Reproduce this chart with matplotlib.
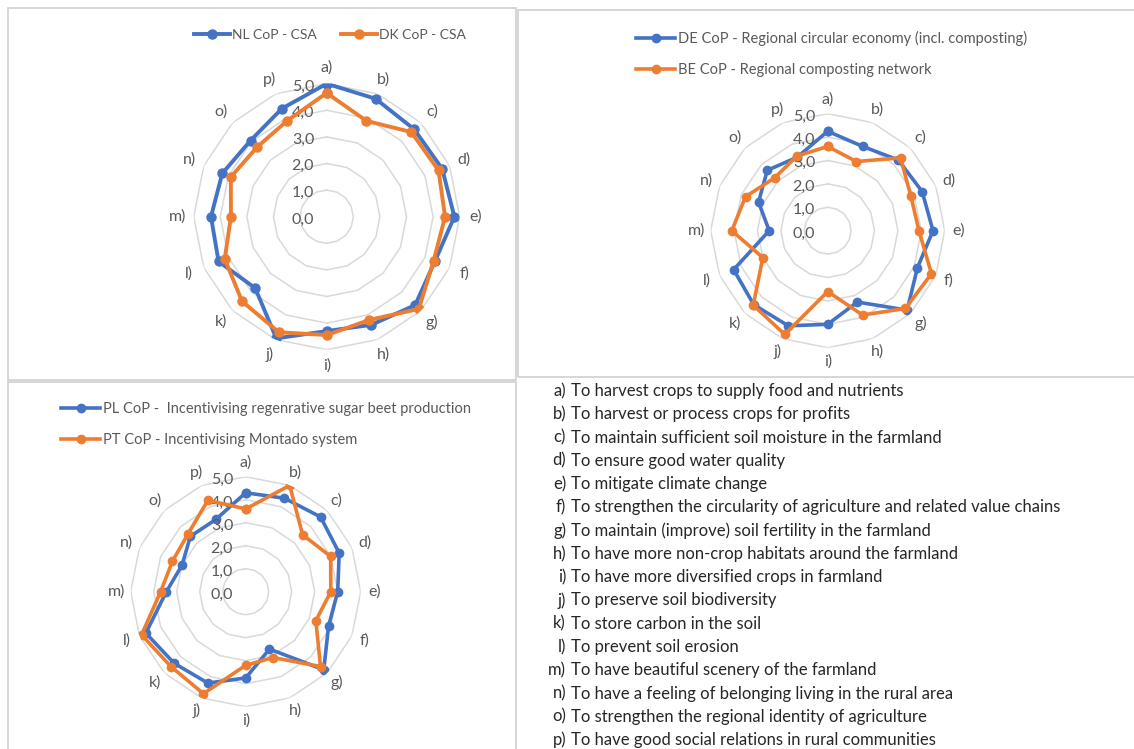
import numpy as np
import matplotlib
matplotlib.use("Agg")
from matplotlib import pyplot as plt
from matplotlib.patches import Rectangle

plt.rcParams['font.family'] = ['Lato', 'DejaVu Sans']

# categories a) .. p)
cats = ['a)', 'b)', 'c)', 'd)', 'e)', 'f)', 'g)', 'h)',
        'i)', 'j)', 'k)', 'l)', 'm)', 'n)', 'o)', 'p)']

descriptions = [
  "To harvest crops to supply food and nutrients",
  "To harvest or process crops for profits",
  "To maintain sufficient soil moisture in the farmland",
  "To ensure good water quality",
  "To mitigate climate change",
  "To strengthen the circularity of agriculture and related value chains",
  "To maintain (improve) soil fertility in the farmland",
  "To have more non-crop habitats around the farmland",
  "To have more diversified crops in farmland",
  "To preserve soil biodiversity",
  "To store carbon in the soil",
  "To prevent soil erosion",
  "To have beautiful scenery of the farmland",
  "To have a feeling of belonging living in the rural area",
  "To strengthen the regional identity of agriculture",
  "To have good social relations in rural communities",
]

# chart 1
nl = [5.0, 4.8, 4.65, 4.7, 4.8, 4.4, 4.7, 4.4, 4.3, 4.95, 3.8, 4.4, 4.35, 4.25, 4.05, 4.4]
dk = [4.65, 3.9, 4.5, 4.55, 4.45, 4.35, 4.9, 4.2, 4.45, 4.7, 4.5, 4.15, 3.6, 3.9, 3.7, 3.9]
# chart 2
de = [4.25, 3.9, 4.27, 4.37, 4.5, 4.15, 4.8, 3.3, 4.0, 4.4, 4.47, 4.35, 2.5, 3.2, 3.65, 3.4]
be = [3.6, 3.2, 4.4, 3.85, 3.9, 4.8, 4.7, 3.9, 2.6, 4.8, 4.5, 3.0, 4.1, 3.8, 3.2, 3.45]
# chart 3
pl = [4.3, 4.4, 4.6, 4.4, 4.0, 3.9, 4.8, 2.7, 3.75, 4.3, 4.4, 4.7, 3.45, 3.0, 3.4, 3.4]
pt = [3.6, 5.0, 3.5, 4.0, 3.7, 3.3, 4.6, 3.1, 3.2, 4.8, 4.6, 4.9, 3.7, 3.45, 3.55, 4.3]

ticks = [0, 1, 2, 3, 4, 5]
tick_labels = ['0,0', '1,0', '2,0', '3,0', '4,0', '5,0']

BLUE = '#4472C4'
ORANGE = '#ED7D31'
GRID = '#D9D9D9'
TXT = '#595959'

W, H = 1134, 749
fig = plt.figure(figsize=(W/100., H/100.), dpi=100)

def px_box(x0, y0, x1, y1):
  # pixel box (top-left origin) -> figure fraction rect
  return [x0/W, 1 - y1/H, (x1-x0)/W, (y1-y0)/H]

# panel borders
for (x0, y0, x1, y1) in [(8, 8, 516, 380), (518, 10, 1140, 377), (8, 382, 516, 760)]:
  fig.patches.append(Rectangle((x0/W, 1 - y1/H), (x1-x0)/W, (y1-y0)/H,
                               transform=fig.transFigure, fill=False,
                               edgecolor='#D0D0D0', lw=1.2))

def radar(cx, cy, r, s1, s2, lab1, lab2, lw=2.8, ms=6.5):
  ax = fig.add_axes(px_box(cx-r, cy-r, cx+r, cy+r), projection='polar')
  ax.set_theta_zero_location('N')
  ax.set_theta_direction(-1)
  ax.set_ylim(0, 5)
  ax.set_xticks([])
  ax.set_yticks([])
  ax.grid(False)
  ax.spines['polar'].set_visible(False)
  ax.patch.set_alpha(0)

  theta = np.linspace(0, 2*np.pi, len(cats), endpoint=False)
  tc = np.append(theta, theta[0])
  for k in ticks[1:]:
    ax.plot(tc, [k]*len(tc), color=GRID, lw=1.1, zorder=0)

  l1, = ax.plot(tc, s1 + [s1[0]], color=BLUE, lw=lw, marker='o', ms=ms, label=lab1, zorder=3)
  l2, = ax.plot(tc, s2 + [s2[0]], color=ORANGE, lw=lw, marker='o', ms=ms, label=lab2, zorder=4)

  for t, c in zip(theta, cats):
    ax.text(t, 5.6, c, ha='center', va='center', fontsize=11.5, color=TXT, clip_on=False)
  for k, tl in zip(ticks, tick_labels):
    ax.annotate(tl, xy=(0, k), xytext=(-9, -2), textcoords='offset points',
                ha='right', va='center', fontsize=11.5, color=TXT, annotation_clip=False)
  return l1, l2

h1 = radar(326.7, 216.7, 133, nl, dk, 'NL CoP - CSA', 'DK CoP - CSA')
h2 = radar(827.7, 230.7, 117, de, be, 'DE CoP - Regional circular economy (incl. composting)',
           'BE CoP - Regional composting network', lw=2.6, ms=6)
h3 = radar(245.7, 591.7, 115, pl, pt, 'PL CoP -  Incentivising regenrative sugar beet production',
           'PT CoP - Incentivising Montado system', lw=2.6, ms=6)

leg_kw = dict(frameon=False, handletextpad=0.15, borderpad=0, borderaxespad=0)
fig.legend(h1, [h.get_label() for h in h1], loc='center left',
           bbox_to_anchor=(194/W, 1 - 35/H), ncol=2, columnspacing=1.7,
           handlelength=2.6, fontsize=10, labelcolor=TXT, **leg_kw)
fig.legend(h2, [h.get_label() for h in h2], loc='upper left',
           bbox_to_anchor=(636/W, 1 - 31/H), labelspacing=1.15,
           handlelength=2.7, fontsize=10.5, labelcolor=TXT, **leg_kw)
fig.legend(h3, [h.get_label() for h in h3], loc='upper left',
           bbox_to_anchor=(61/W, 1 - 402/H), labelspacing=1.15,
           handlelength=2.7, fontsize=10.5, labelcolor=TXT, **leg_kw)

# description list
y0 = 391.0
dy = 23.27
for i, (c, d) in enumerate(zip(cats, descriptions)):
  y = 1 - (y0 + i*dy)/H
  fig.text(566/W, y, c, ha='right', va='center', fontsize=12, color='#262626')
  fig.text(571/W, y, d, ha='left', va='center', fontsize=12, color='#262626')

fig.savefig('out.png', dpi=100, facecolor='white')
